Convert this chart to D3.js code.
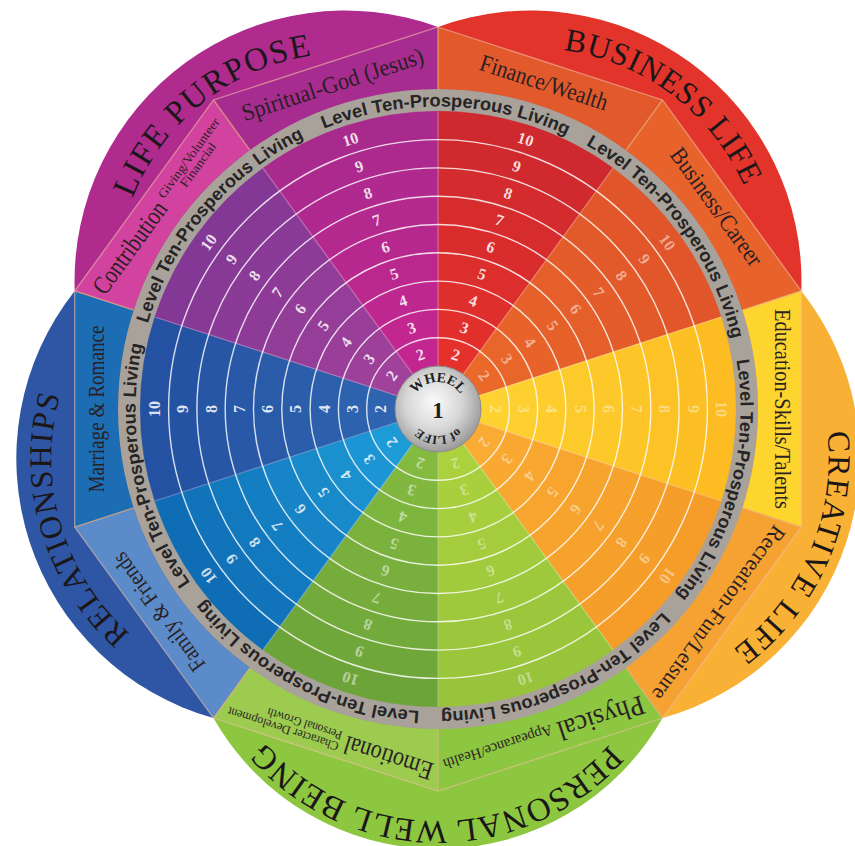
<!DOCTYPE html>
<html>
<head>
<meta charset="utf-8">
<title>Wheel of Life</title>
<script src="https://cdn.jsdelivr.net/npm/d3@7"></script>
<style>
html,body{margin:0;padding:0;background:#ffffff;}
svg{display:block;}
</style>
</head>
<body>
<svg id="chart" width="855" height="846" viewBox="0 0 855 846"></svg>
<script>
// ---------------- data ----------------
const categories = ["Finance/Wealth", "Business/Career", "Education-Skills/Talents", "Recreation-Fun/Leisure",
  "Physical", "Emotional", "Family & Friends", "Marriage & Romance", "Contribution", "Spiritual-God (Jesus)"];
const categoryNotes1 = ["", "", "", "", "Appearance/Health", "Character Development", "", "", "Giving/Volunteer", ""];
const categoryNotes2 = ["", "", "", "", "", "Personal Growth", "", "", "Financial", ""];
const levels = [2, 3, 4, 5, 6, 7, 8, 9, 10];
const lifeAreas = ["BUSINESS LIFE", "CREATIVE LIFE", "PERSONAL WELL BEING", "RELATIONSHIPS", "LIFE PURPOSE"];
const bandLabel = "Level Ten-Prosperous Living";
const bandRepeats = 7;
const centerWords = ["WHEEL", "1", "of LIFE"];

// ---------------- styles ----------------
const sectorInner = ["#e4312c", "#ea682a", "#fed331", "#f9ab33", "#abd13d", "#84ba40", "#1d9bd7", "#2e64b0", "#a0419b", "#c4268f"];
const sectorOuter = ["#cd292e", "#e0552a", "#fcbc22", "#f59c29", "#97c43b", "#6da43a", "#0f6db5", "#2451a1", "#833895", "#a92a8d"];
const bandColors  = ["#e25a2c", "#e8632b", "#fed52f", "#f6a233", "#8dc640", "#9ccb4f", "#5b8bc8", "#1c6db3", "#d2439f", "#a72c8f"];
const lobeColors  = ["#e3342b", "#f8b134", "#8dc63f", "#2f56a4", "#b02b8e"];
const numberOpacity = [0.85, 0.5, 0.42, 0.45, 0.42, 0.5, 0.8, 0.85, 0.85, 0.85];
const lobeOffset = [158, 160, 182, 160, 158];
const lobeTitle = [
  {ang: 37, rc: 244, size: 32, len: 236},
  {ang: 113.4, rc: 249, size: 32, len: 248},
  {ang: 180.5, rc: 241, size: 33, len: 390},
  {ang: 253.6, rc: 245, size: 32, len: 262},
  {ang: 321.4, rc: 239, size: 33, len: 240}
];
const labelLayout = [
  {r: 343, size: 24, len: 133},
  {r: 344, size: 24, len: 140},
  {r: 344, size: 23, len: 200},
  {r: 347, size: 22, len: 210},
  {r: 344, size: 28, len: 90, subSize: 15, subLen1: 114},
  {r: 347, size: 26, len: 92, subSize: 12.5, subLen1: 116, subLen2: 78},
  {r: 345, size: 23, len: 141},
  {r: 341, size: 23, len: 167},
  {r: 344, size: 26, len: 108, subSize: 12.5, subLen1: 96, subLen2: 52},
  {r: 341, size: 24, len: 190}
];

// ---------------- geometry ----------------
const cx = 438, cy = 409;
const deg = Math.PI / 180;
const R_CENTER = 43, R_BAND_OUT = 320, R_POLY = 382;
const angle = d3.scaleLinear().domain([0, categories.length]).range([0, 2 * Math.PI]);
const radius = d3.scaleLinear().domain([1, 10]).range([R_CENTER, 297.7]);
const pt = (r, a) => [r * Math.sin(a), -r * Math.cos(a)];

const svg = d3.select("#chart");
const defs = svg.append("defs");
const g = svg.append("g").attr("transform", `translate(${cx},${cy})`);

let pathId = 0;
function arcPath(c, r, t0, t1) {
  const p = d3.path();
  p.arc(c[0], c[1], r, t0 - Math.PI / 2, t1 - Math.PI / 2, false);
  const id = "tp" + (pathId++);
  defs.append("path").attr("id", id).attr("d", p.toString())
    .attr("transform", `translate(${cx},${cy})`);
  return id;
}

// ---------------- outer lobes ----------------
const lobeGeo = lifeAreas.map((name, j) => {
  const axis = angle(2 * j + 1);
  const c = pt(lobeOffset[j], axis);
  const j0 = pt(R_POLY, angle(2 * j)), j1 = pt(R_POLY, angle(2 * j + 2));
  const R = Math.hypot(j0[0] - c[0], j0[1] - c[1]);
  return {name, axis, c, j0, j1, R};
});
g.append("g").selectAll("path").data(lobeGeo).join("path")
  .attr("d", d => `M0,0L${d.j0[0]},${d.j0[1]}A${d.R},${d.R} 0 0 1 ${d.j1[0]},${d.j1[1]}Z`)
  .attr("fill", (d, j) => lobeColors[j]);

// ---------------- sub-category polygon band ----------------
const bandG = g.append("g");
categories.forEach((name, i) => {
  const a0 = angle(i), a1 = angle(i + 1);
  const v0 = pt(R_POLY, a0), v1 = pt(R_POLY, a1);
  const i0 = pt(R_BAND_OUT, a0), i1 = pt(R_BAND_OUT, a1);
  bandG.append("path")
    .attr("d", `M${v0}L${v1}L${i1}A${R_BAND_OUT},${R_BAND_OUT} 0 0 0 ${i0}Z`)
    .attr("fill", bandColors[i]);
});
const polyPts = d3.range(categories.length).map(i => pt(R_POLY, angle(i)));
bandG.append("path").attr("d", "M" + polyPts.join("L") + "Z")
  .attr("fill", "none").attr("stroke", "#f0c0a8").attr("stroke-opacity", 0.6).attr("stroke-width", 1.3);
bandG.selectAll("line").data(d3.range(categories.length)).join("line")
  .attr("x1", i => pt(R_BAND_OUT, angle(i))[0]).attr("y1", i => pt(R_BAND_OUT, angle(i))[1])
  .attr("x2", i => pt(R_POLY, angle(i))[0]).attr("y2", i => pt(R_POLY, angle(i))[1])
  .attr("stroke", "#e8b080").attr("stroke-opacity", 0.75).attr("stroke-width", 1.3);

// ---------------- gray "Level Ten" band ----------------
g.append("path")
  .attr("d", d3.arc()({innerRadius: radius(10) - 0.5, outerRadius: R_BAND_OUT, startAngle: 0, endAngle: 2 * Math.PI}))
  .attr("fill", "#a8a29b");

// ---------------- wheel cells ----------------
const cells = [];
categories.forEach((c, i) => levels.forEach(k => cells.push({i, k})));
const cellArc = d3.arc()
  .innerRadius(d => radius(d.k - 1))
  .outerRadius(d => radius(d.k))
  .startAngle(d => angle(d.i))
  .endAngle(d => angle(d.i + 1));
const cellColor = d => d3.interpolateRgb(sectorInner[d.i], sectorOuter[d.i])((d.k - 2) / 8);
g.append("g").selectAll("path").data(cells).join("path")
  .attr("d", cellArc)
  .attr("fill", cellColor).attr("stroke", cellColor).attr("stroke-width", 0.6);

// ring lines
g.append("g").selectAll("circle").data(levels.filter(k => k < 10)).join("circle")
  .attr("r", k => radius(k)).attr("fill", "none")
  .attr("stroke", "#ffffff").attr("stroke-opacity", 0.82).attr("stroke-width", 1.4);

// sector separators
g.append("g").selectAll("line").data(d3.range(categories.length)).join("line")
  .attr("x1", i => pt(R_CENTER, angle(i))[0]).attr("y1", i => pt(R_CENTER, angle(i))[1])
  .attr("x2", i => pt(radius(10), angle(i))[0]).attr("y2", i => pt(radius(10), angle(i))[1])
  .attr("stroke", "#ffffff").attr("stroke-opacity", 0.3).attr("stroke-width", 1.2);

// level numbers
g.append("g").selectAll("text").data(cells).join("text")
  .attr("transform", d => {
    const a = angle(d.i + 0.5), r = (radius(d.k - 1) + radius(d.k)) / 2;
    const p = pt(r, a);
    return `translate(${p[0]},${p[1]}) rotate(${a / deg})`;
  })
  .attr("text-anchor", "middle").attr("dominant-baseline", "central")
  .attr("font-family", "'Liberation Serif','DejaVu Serif',serif").attr("font-weight", "bold")
  .attr("font-size", 16).attr("fill", "#ffffff")
  .attr("fill-opacity", d => numberOpacity[d.i])
  .text(d => d.k);

// band texts
for (let j = 0; j < bandRepeats; j++) {
  const c = (1.5 + j * 360 / bandRepeats) * deg;
  const id = arcPath([0, 0], 302.5, c - 40 * deg, c + 40 * deg);
  svg.append("text")
    .attr("font-family", "'Liberation Sans',Arial,sans-serif").attr("font-weight", "bold")
    .attr("font-size", 18).attr("fill", "#262424")
    .append("textPath").attr("href", "#" + id)
    .attr("startOffset", "50%").attr("text-anchor", "middle")
    .attr("textLength", 250).attr("lengthAdjust", "spacingAndGlyphs")
    .text(bandLabel);
}

// ---------------- sub-category labels ----------------
const serif = "'Liberation Serif','Times New Roman',serif";
categories.forEach((name, i) => {
  const L = labelLayout[i];
  const am = angle(i + 0.5);
  const p = pt(L.r, am);
  const lg = g.append("g").attr("transform", `translate(${p[0]},${p[1]}) rotate(${am / deg})`)
    .attr("font-family", serif).attr("fill", "#2a1f24");
  if (!categoryNotes1[i]) {
    lg.append("text").attr("x", 0).attr("y", L.size * 0.32).attr("text-anchor", "middle")
      .attr("font-size", L.size).attr("textLength", L.len).attr("lengthAdjust", "spacingAndGlyphs")
      .text(name);
  } else {
    const total = L.len + 5 + L.subLen1;
    const x0 = -total / 2;
    lg.append("text").attr("x", x0).attr("y", L.size * 0.32)
      .attr("font-size", L.size).attr("textLength", L.len).attr("lengthAdjust", "spacingAndGlyphs")
      .text(name);
    const xs = x0 + L.len + 5;
    if (!categoryNotes2[i]) {
      lg.append("text").attr("x", xs).attr("y", L.size * 0.32)
        .attr("font-size", L.subSize).attr("textLength", L.subLen1).attr("lengthAdjust", "spacingAndGlyphs")
        .text(categoryNotes1[i]);
    } else {
      lg.append("text").attr("x", xs).attr("y", -1)
        .attr("font-size", L.subSize).attr("textLength", L.subLen1).attr("lengthAdjust", "spacingAndGlyphs")
        .text(categoryNotes1[i]);
      const x2 = (i === 8) ? xs + (L.subLen1 - L.subLen2) / 2 : xs;
      lg.append("text").attr("x", x2).attr("y", 10.5)
        .attr("font-size", L.subSize).attr("textLength", L.subLen2).attr("lengthAdjust", "spacingAndGlyphs")
        .text(categoryNotes2[i]);
    }
  }
});

// ---------------- life-area titles ----------------
lobeGeo.forEach((d, j) => {
  const T = lobeTitle[j];
  const c = T.ang * deg;
  const rb = T.rc - T.size * 0.33;
  const id = arcPath(d.c, rb, c - 100 * deg, c + 100 * deg);
  svg.append("text")
    .attr("font-family", serif).attr("font-size", T.size).attr("fill", "#1b1718")
    .append("textPath").attr("href", "#" + id)
    .attr("startOffset", "50%").attr("text-anchor", "middle")
    .attr("textLength", T.len).attr("lengthAdjust", "spacing")
    .text(d.name);
});

// ---------------- center hub ----------------
const grad = defs.append("radialGradient").attr("id", "hub").attr("cx", "45%").attr("cy", "42%").attr("r", "60%");
grad.append("stop").attr("offset", "0%").attr("stop-color", "#fbfbfb");
grad.append("stop").attr("offset", "55%").attr("stop-color", "#d6d6d6");
grad.append("stop").attr("offset", "100%").attr("stop-color", "#979797");
g.append("circle").attr("r", R_CENTER).attr("fill", "url(#hub)")
  .attr("stroke", "#8c8c8c").attr("stroke-width", 1);
const topId = arcPath([0, 0], 27, -90 * deg, 90 * deg);
svg.append("text").attr("font-family", serif).attr("font-weight", "bold").attr("font-size", 14).attr("fill", "#1e1e1e")
  .append("textPath").attr("href", "#" + topId).attr("startOffset", "50%").attr("text-anchor", "middle")
  .text(centerWords[0]);
g.append("text").attr("x", 0).attr("y", 1).attr("text-anchor", "middle").attr("dominant-baseline", "central")
  .attr("font-family", serif).attr("font-weight", "bold").attr("font-size", 23).attr("fill", "#1e1e1e")
  .text(centerWords[1]);
const botId = arcPath([0, 0], 27, 90 * deg, 270 * deg);
svg.append("text").attr("font-family", serif).attr("font-weight", "bold").attr("font-size", 12.5).attr("fill", "#1e1e1e")
  .append("textPath").attr("href", "#" + botId).attr("startOffset", "50%").attr("text-anchor", "middle")
  .text(centerWords[2]);
</script>
</body>
</html>
